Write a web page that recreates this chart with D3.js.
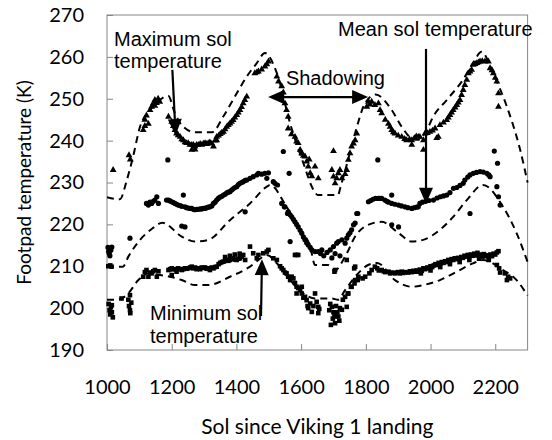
<!DOCTYPE html>
<html><head><meta charset="utf-8">
<script src="https://cdn.jsdelivr.net/npm/d3@7"></script>
<style>
html,body{margin:0;padding:0;background:#fff;}
svg{display:block;}
</style></head>
<body>
<svg id="chart" width="552" height="440"></svg>
<script>
// ---------- DATA ----------
const xTicks = [1000, 1200, 1400, 1600, 1800, 2000, 2200];
const yTicks = [190, 200, 210, 220, 230, 240, 250, 260, 270];

// model curves (dashed)
const maxModel = [[1000,226.5],[1040,226],[1061,230.5],[1080,236],[1102,243.3],[1133,247.3],[1160,249.5],[1189,250.7],[1210,246.5],[1231,243.7],[1272,242],[1325,242],[1359,245.7],[1401,251.3],[1432,255.3],[1463,258.5],[1488,260.9],[1525,256.1],[1566,244.1],[1607,234.6],[1640,228],[1652,227],[1714,227],[1722,229],[1745,235.4],[1767,241.8],[1798,249],[1830,251],[1880,247.3],[1911,243.3],[1942,240.5],[1960,240.2],[1988,242.5],[2008,245.7],[2050,249.7],[2100,254.5],[2131,258.5],[2158,261.2],[2193,256.1],[2236,248.1],[2277,237.8],[2300,230]];
const meanModel = [[1000,209.9],[1049,209.9],[1066,212.3],[1102,216.3],[1140,219],[1171,220.4],[1231,217.1],[1272,215.9],[1313,216.3],[1380,221],[1442,225],[1494,229],[1504,229.4],[1555,224.2],[1597,218.7],[1628,214.7],[1643,210.3],[1683,210.3],[1705,209.1],[1736,212.3],[1767,217.1],[1807,219.9],[1849,220.6],[1900,218],[1942,215.9],[1977,216.3],[2029,218.7],[2070,221.8],[2112,225.8],[2162,229.4],[2224,224.2],[2266,217.9],[2300,211]];
const minModel = [[1000,202],[1030,202],[1061,203.1],[1097,206.7],[1128,208.3],[1164,207.9],[1195,207.5],[1231,206.7],[1272,205.5],[1313,205.5],[1380,207.5],[1442,209.9],[1483,212.3],[1494,212.7],[1525,210.7],[1566,206.7],[1607,203.5],[1643,202.3],[1695,202.3],[1714,202],[1736,204.3],[1767,207.5],[1807,210.3],[1835,210.8],[1890,206.7],[1942,205.1],[1977,205.5],[2029,206.7],[2081,208.7],[2131,210.7],[2162,211.5],[2224,209.1],[2266,206.7],[2300,203]];

// measured maximum sol temperature (triangles)
const maxObs = [[1019,233],[1068,236.5],[1072,235.5],
[1112,242.5],[1117,243.5],[1117,245],[1122,246],[1128,244],[1133,247.3],[1138,248.1],[1143,248.9],[1148,249.7],[1148,248.3],[1153,249],[1158,250],[1163,249.3],
[1190,245.7],[1200,244.5],[1205,243.5],[1210,242.5],[1215,241.7],[1220,241.3],[1226,240.9],[1231,240.3],[1236,240.1],[1241,239.6],[1246,239.4],[1251,239.4],[1256,239],[1262,239],[1262,237.8],[1267,239],[1272,238.6],[1272,237.9],[1277,239],[1282,239],[1288,239.2],[1293,239],[1298,239.3],[1303,239.4],[1308,239.2],[1313,239.4],[1318,239.6],[1324,239.3],[1329,238.6],[1334,240],[1339,240.1],[1339,240.9],[1345,241.2],[1350,241.6],[1355,241.9],[1360,242.1],[1365,242.7],[1370,243.3],[1375,243.7],[1380,244.1],[1385,244.5],[1390,244.9],[1395,245.5],[1401,246.1],[1406,246.7],[1411,247.3],[1416,248],[1421,248.9],[1426,249.7],[1432,250.5],
[1457,256.1],[1463,256.3],[1468,256.5],[1478,257],[1488,257.7],[1494,258.2],[1499,258.9],[1525,255.3],[1530,254.1],[1540,253],[1545,251.5],[1550,248.9],[1555,247.3],[1560,245.7],[1560,242.9],[1570,241.5],[1581,240.9],[1586,239.8],[1591,239.4],[1597,237.8],[1602,237],[1607,236.4],[1612,236.2],[1617,235],[1622,233.8],[1625,235.5],[1628,232.2],[1633,231.5],[1643,233.8],[1653,231],
[1695,233],[1700,231.4],[1700,237.5],[1705,229.8],[1710,231],[1715,232.2],[1720,233],[1726,231],[1736,232],[1741,233],[1746,235.4],[1751,237],[1756,238.6],[1762,239.3],[1767,240.1],[1772,241.7],
[1803,248.1],[1808,249.3],[1813,248.6],[1818,249.3],[1828,248.5],[1839,248.9],[1844,247.3],[1849,246.5],[1860,245],[1870,244],[1875,243.3],[1880,242.5],[1885,242],[1890,241.7],[1900,241.2],[1911,240.9],[1920,240.4],[1926,240.1],[1935,240.3],[1942,240.1],[1942,239],[1950,240.6],[1956,241],[1962,240.9],[1967,240.9],[1978,240.1],[1978,237.8],[1983,241.7],[1990,241.8],[1998,242.1],[2006,242.4],[2014,242.9],[2019,240.6],[2024,240.9],[2029,243.7],[2040,244.3],[2050,244.9],[2055,245.5],[2060,246.1],[2065,246.7],[2070,247.3],[2076,247.9],[2081,248.5],[2086,249.1],[2091,249.7],[2096,250.9],[2101,252.1],[2106,253.3],[2112,254.5],[2117,256.1],[2122,256.5],[2127,256.9],[2132,258.1],[2138,258.3],[2143,258.5],[2148,258.7],[2153,258.9],[2160,259],[2168,258.9],[2174,259],[2179,258.9],[2184,257.3],[2190,256.8],[2194,256.1],[2200,255],[2205,254.1],[2210,251.3],[2210,248.1]];

// measured mean sol temperature (circles)
const meanObs = [[1003,214.5],[1005,213.5],[1007,213],[1009,212.5],[1012,213.8],[1015,214.6],[1071,216.7],
[1122,225],[1128,224.6],[1133,225.3],[1138,225],[1143,225.5],[1148,225.8],[1154,226.6],[1159,225],[1188,235.4],
[1184,225.8],[1190,225.8],[1195,225.6],[1200,225.4],[1205,225.2],[1210,225],[1215,224.8],[1220,224.6],[1226,224.5],[1231,224.3],[1236,227],[1241,224.2],[1246,224],[1251,223.9],[1257,223.8],[1262,223.8],[1267,223.6],[1272,223.5],[1277,223.6],[1282,223.6],[1288,223.7],[1293,223.7],[1298,223.8],[1303,223.8],[1308,224],[1313,224.1],[1318,224.2],[1324,224.4],[1329,225],[1334,225.3],[1339,225.8],[1344,226.2],[1349,226.5],[1355,226.7],[1360,227],[1365,227.2],[1370,227.5],[1375,227.7],[1380,227.8],[1385,228.2],[1390,228.5],[1395,228.8],[1401,229],[1406,229.5],[1411,229.8],[1416,230],[1421,230.2],[1427,230.5],[1432,230.6],[1442,231],[1452,231.4],[1463,231.8],[1468,232.2],[1478,232],[1488,232.2],[1494,231],[1499,232.3],[1514,230.2],[1519,229.8],[1527,229.4],
[1231,219.6],[1241,219.4],[1427,223],
[1540,225],[1548,224.2],[1550,224.2],[1558,222.6],[1560,223],[1566,222.3],[1571,221.8],[1576,221.2],[1581,220.6],[1586,220],[1591,219.4],[1597,218.6],[1602,217.9],[1607,217],[1612,216.3],[1617,215.6],[1622,215.1],[1628,214.5],[1633,213.9],[1643,213.5],
[1545,237.4],[1563,232.2],[1566,215.9],
[1653,213.5],[1660,213],[1664,213.9],[1670,212.5],[1680,213.3],[1690,213.9],[1695,212],[1700,214.7],[1705,213],[1710,215.5],[1715,215.9],[1720,212.5],[1726,216.3],[1736,215.5],[1741,216.7],[1746,217.5],[1751,218],[1756,218.7],[1762,219.9],[1767,220.3],[1772,222.6],[1775,222.6],
[1808,225.4],[1815,225.7],[1822,226],[1830,226.2],[1839,226.2],[1844,226.2],[1849,226.2],[1859,225.8],[1865,225.5],[1870,225.3],[1880,225],[1890,224.8],[1901,224.6],[1910,224.4],[1921,224.2],[1930,224],[1942,223.8],[1950,224],[1957,224.1],[1962,224.2],[1967,225],[1975,225.3],[1985,225.5],[1995,225.7],[2009,225.8],[2020,226.3],[2030,226.6],[2040,226.8],[2050,227],[2060,227.6],[2071,228.6],[2081,228.8],[2091,229.3],[2101,229.8],[2106,230.6],[2115,231.3],[2122,231.8],[2132,232.2],[2142,232.4],[2153,232.6],[2163,232.5],[2174,232.2],[2180,231.8],[2184,231.4],
[1837,235.4],[1880,219.9],[1901,219.4],[1880,227],[2122,222.6],
[2197,237.5],[2207,234.6],[2205,229],[2210,226.6],[2215,224.6]];

// measured minimum sol temperature (squares)
const minObs = [[1004,210],[1010,210.2],[1014,209.9],
[1005,201],[1008,199.5],[1010,198.5],[1012,200.2],[1015,199],[1015,200.7],[1018,197.8],[1045,202.3],[1066,202],[1068,200.5],[1071,203.1],[1071,199.5],[1075,201.3],[1072,198.8],
[1112,207.5],[1117,208.6],[1122,209.1],[1128,207.5],[1133,208.5],[1138,208.3],[1143,208.8],[1148,209.1],[1154,207.5],[1159,208.8],[1190,209.1],[1195,209.3],[1200,209.5],[1200,207.9],[1205,209.3],[1210,209.3],[1215,208.7],[1220,209.5],[1226,209.3],[1231,209.1],[1236,209.3],[1241,209.5],[1246,209.4],[1251,209.5],[1257,209.7],[1262,209.9],[1267,209.5],[1272,209.7],[1277,209.3],[1282,209.5],[1288,209.3],[1293,209.7],[1298,209.6],[1303,209.7],[1308,209.4],[1313,209.5],[1318,209.1],[1324,209.7],[1329,209.5],[1334,209.8],[1339,209.9],[1345,210.5],[1350,210.8],[1355,211],[1360,211.1],[1365,211.3],[1365,212.2],[1370,211.5],[1375,211.3],[1380,211.5],[1380,212.5],[1385,211.8],[1390,211.9],[1395,211.6],[1395,212.8],[1401,211.5],[1406,211.8],[1410,213],[1411,211.9],[1416,212.3],[1421,212.7],[1427,211.5],[1442,214.7],[1452,213.1],[1463,211.9],[1468,212.7],[1483,213.1],[1494,213.5],[1499,213.9],[1514,211.9],[1525,211.5],
[1581,212.7],[1586,212.7],[1591,212.7],
[1535,210],[1540,209.5],[1545,209.1],[1550,208.5],[1555,208.3],[1560,207.5],[1566,206.7],[1571,207.5],[1576,207.1],[1581,206],[1586,205.1],[1586,203.5],[1591,204.8],[1597,204.3],[1602,203.5],[1602,205.1],[1607,202.5],[1612,202.7],[1617,201.9],[1620,200.5],[1622,200],[1628,201.1],[1633,199.1],[1638,200.5],[1643,203.5],[1648,201.5],[1653,200.3],[1653,198.8],[1656,199.8],
[1687,199.5],[1690,201],[1692,196],[1695,200.3],[1698,197.5],[1700,199],[1703,198],[1705,198.8],[1705,196.4],[1708,200.5],[1712,199],[1715,198],[1718,197],[1720,200],[1726,199.6],[1729,202],[1736,202.7],[1741,200.3],[1744,203.5],[1746,203.5],[1754,205.1],[1756,205.1],[1765,205.9],[1767,206.7],[1775,206.7],[1777,207.5],[1790,207.1],[1798,207.5],[1811,208.3],
[1703,208.7],[1705,209.1],[1741,211.5],[1764,209.5],[1767,209.9],
[1818,209.1],[1828,209.9],[1835,209.5],[1840,209],[1849,209.1],[1855,208.8],[1860,208.6],[1870,208.7],[1875,208.3],[1880,208.5],[1890,208.3],[1895,208.5],[1900,208.6],[1905,208.3],[1911,208.7],[1916,208.4],[1921,208.6],[1931,208.5],[1936,208.8],[1942,208.6],[1947,208.9],[1952,208.7],[1957,209],[1962,208.7],[1967,209.2],[1973,208.9],[1978,209.5],[1983,209.3],[1990,209.7],[1995,209.5],[2000,210],[2005,209.8],[2010,210.2],[2015,210.5],[2020,210.3],[2025,210.8],[2030,210.6],[2035,211],[2040,210.8],[2045,211.2],[2050,211],[2055,211.5],[2060,211.3],[2065,211.7],[2070,211.5],[2075,211.9],[2080,211.7],[2085,212],[2090,211.8],[2095,212.2],[2100,212],[2105,212.5],[2110,212.3],[2115,212.7],[2120,212.4],[2125,212.8],[2130,212.5],[2135,213],[2140,212.6],[2145,213.2],[2150,212.5],[2155,212.8],[2160,212.3],[2165,212.9],[2170,212.4],[2175,212.6],[2180,212.2],[2185,212.8],[2190,212.4],[2195,213],[2200,212.8],[2205,213.3],[2210,213.6],
[1970,208.3],[2000,209],[2030,209.8],[2060,210.5],[2090,211],[2120,211.5],[2150,211.8],[2180,211.5],
[2205,210.3],[2212,209.5],[2215,208.5],[2230,208.3],[2236,206.7],[2240,207.5],[2246,207.1]];

// annotations (in data units)
const labels = [
  {lines:["Maximum sol","temperature"], sol:1021.6, T:[262.6,257.3]},
  {lines:["Shadowing"], sol:1553, T:[253.3]},
  {lines:["Mean sol temperature"], sol:1714, T:[265]},
  {lines:["Minimum sol","temperature"], sol:1133, T:[197.2,191.7]}
];
const arrows = [
  {from:[1202,256.9], to:[1212,241.3], both:false},
  {from:[1986,261.9], to:[1986,224.9], both:false},
  {from:[1807,250.4], to:[1498,250.4], both:true},
  {from:[1476,198.1], to:[1479,211.7], both:false}
];

// ---------- CHART ----------
const svg = d3.select("#chart");
const L = 107, R = 527.6, T0 = 15, B = 350;
const x = d3.scaleLinear().domain([1000, 2300]).range([L, R]);
const y = d3.scaleLinear().domain([190, 270]).range([B, T0]);
const tickFont = "Lato, 'Open Sans', sans-serif";
const annFont = "'Liberation Sans', Arial, sans-serif";

// axes
const yAxis = svg.append("g").attr("transform", `translate(${L},0)`)
  .call(d3.axisLeft(y).tickValues(yTicks).tickSize(-6).tickPadding(23).tickFormat(d3.format("d")));
const xAxis = svg.append("g").attr("transform", `translate(0,${B})`)
  .call(d3.axisBottom(x).tickValues(xTicks).tickSize(-6).tickPadding(30).tickFormat(d3.format("d")));
[yAxis, xAxis].forEach(g => {
  g.select(".domain").remove();
  g.selectAll(".tick line").attr("stroke", "#868686");
  g.selectAll("text").attr("font-family", tickFont).attr("font-size", 20).attr("fill", "#000");
});

// frame
svg.append("rect").attr("x", L).attr("y", T0).attr("width", R - L).attr("height", B - T0)
  .attr("fill", "none").attr("stroke", "#868686").attr("stroke-width", 1);

// axis titles
svg.append("text").attr("transform", `translate(31,${(T0 + B) / 2}) rotate(-90)`)
  .attr("text-anchor", "middle").attr("font-family", tickFont).attr("font-size", 19)
  .text("Footpad temperature (K)");
svg.append("text").attr("x", (L + R) / 2).attr("y", 434)
  .attr("text-anchor", "middle").attr("font-family", tickFont).attr("font-size", 21)
  .text("Sol since Viking 1 landing");

// dashed model curves
const line = d3.line().x(d => x(d[0])).y(d => y(d[1])).curve(d3.curveMonotoneX);
[maxModel, meanModel, minModel].forEach(s => {
  svg.append("path").attr("d", line(s)).attr("fill", "none").attr("stroke", "#000")
    .attr("stroke-width", 2).attr("stroke-dasharray", "7,5");
});

// observations
const tri = d3.symbol().type(d3.symbolTriangle).size(20);
svg.append("g").selectAll("path").data(maxObs).join("path")
  .attr("d", tri).attr("transform", d => `translate(${x(d[0])},${y(d[1])})`).attr("fill", "#000");
svg.append("g").selectAll("circle").data(meanObs).join("circle")
  .attr("cx", d => x(d[0])).attr("cy", d => y(d[1])).attr("r", 2.6).attr("fill", "#000");
svg.append("g").selectAll("rect").data(minObs).join("rect")
  .attr("x", d => x(d[0]) - 2.3).attr("y", d => y(d[1]) - 2.3).attr("width", 4.6).attr("height", 4.6).attr("fill", "#000");

// annotations
labels.forEach(l => {
  l.lines.forEach((t, i) => {
    svg.append("text").attr("x", x(l.sol)).attr("y", y(l.T[i]))
      .attr("font-family", annFont).attr("font-size", 20).attr("fill", "#000").text(t);
  });
});
function head(g, px, py, ang) {
  const len = 16, w = 7;
  const bx = px - len * Math.cos(ang), by = py - len * Math.sin(ang);
  const nx = -Math.sin(ang) * w, ny = Math.cos(ang) * w;
  g.append("path").attr("d", `M${px},${py}L${bx + nx},${by + ny}L${bx - nx},${by - ny}Z`).attr("fill", "#000");
}
arrows.forEach(a => {
  const x1 = x(a.from[0]), y1 = y(a.from[1]), x2 = x(a.to[0]), y2 = y(a.to[1]);
  const ang = Math.atan2(y2 - y1, x2 - x1);
  const g = svg.append("g");
  g.append("line").attr("x1", a.both ? x1 + 12 * Math.cos(ang) : x1).attr("y1", a.both ? y1 + 12 * Math.sin(ang) : y1)
    .attr("x2", x2 - 12 * Math.cos(ang)).attr("y2", y2 - 12 * Math.sin(ang))
    .attr("stroke", "#000").attr("stroke-width", 2.2);
  head(g, x2, y2, ang);
  if (a.both) head(g, x1, y1, ang + Math.PI);
});
</script>
</body></html>
